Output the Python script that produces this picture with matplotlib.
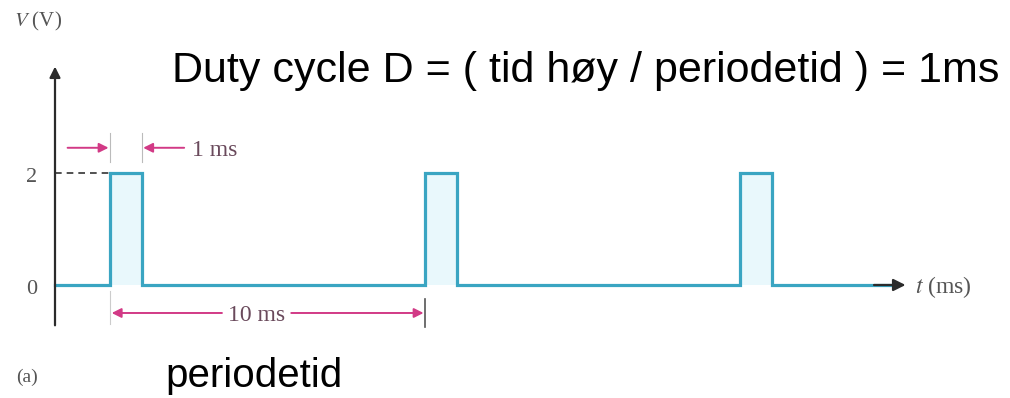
import numpy as np
import matplotlib.pyplot as plt

# pulse train (ms, V)
pulse_starts = [1.75, 11.75, 21.75]
pulse_width = 1.0
period = 10.0
v_high = 2.0
v_low = 0.0
t_end = 27.0
ytick_values = [0, 2]
ytick_labels = ['0', '2']

title_text = 'Duty cycle D = ( tid høy / periodetid ) = 1ms'
period_caption = 'periodetid'

WAVE = '#3aa5c2'
FILL = '#e9f8fc'
PINK = '#d23a86'
DIM_TEXT = '#6a4a5c'
GREY = '#555555'
SERIF = 'Liberation Serif'

plt.rcParams['mathtext.fontset'] = 'stix'


def build_wave():
    t = [0.0]
    v = [v_low]
    for s in pulse_starts:
        t += [s, s, s + pulse_width, s + pulse_width]
        v += [v_low, v_high, v_high, v_low]
    t.append(t_end - 0.5)
    v.append(v_low)
    return np.array(t), np.array(v)


def arrow(ax, tip, tail, color, lw=1.4, ms=14):
    ax.annotate('', xy=tip, xytext=tail,
                arrowprops=dict(arrowstyle='-|>', color=color, lw=lw,
                                mutation_scale=ms, shrinkA=0, shrinkB=0))


def main():
    fig = plt.figure(figsize=(10.10, 3.98), dpi=100)
    ax = fig.add_axes([0, 0, 1, 1])
    ax.set_xlim(-1.746, 30.317)
    ax.set_ylim(-2.018, 5.089)
    ax.axis('off')

    t, v = build_wave()
    for s in pulse_starts:
        ax.fill_between([s, s + pulse_width], v_low, v_high, color=FILL, lw=0)
    ax.plot(t, v, color=WAVE, lw=2.3, solid_joinstyle='miter', zorder=3)

    # axes with arrow heads (the waveform itself sits on the time axis)
    arrow(ax, (t_end, 0), (t_end - 1.0, 0), '#2b2b2b', lw=1.6, ms=18)
    arrow(ax, (0, 3.9), (0, -0.72), '#2b2b2b', lw=1.6, ms=16)
    ax.plot([0, pulse_starts[0]], [v_high, v_high], color='#333333', lw=1.2,
            ls=(0, (4, 3)))

    for val, lab in zip(ytick_values, ytick_labels):
        ax.text(-0.75, val - 0.08, lab, ha='center', va='center', fontsize=16,
                family=SERIF, color=GREY)
    ax.text(-1.3, 4.7, '$\\it{V}$ (V)', ha='left', va='center', fontsize=15,
            family=SERIF, color=GREY)
    ax.text(t_end + 0.3, -0.04, '$\\it{t}$ (ms)', ha='left', va='center',
            fontsize=17, family=SERIF, color=GREY)
    ax.text(-0.9, -1.65, '(a)', ha='center', va='center', fontsize=14,
            family=SERIF, color=GREY)

    # 1 ms width marker
    s0 = pulse_starts[0]
    y1 = 2.45
    for x in (s0, s0 + pulse_width):
        ax.plot([x, x], [2.2, 2.72], color='#bbbbbb', lw=0.8)
    arrow(ax, (s0 - 0.05, y1), (s0 - 1.35, y1), PINK)
    arrow(ax, (s0 + pulse_width + 0.05, y1), (s0 + 2.35, y1), PINK)
    ax.text(s0 + 2.6, y1 - 0.05, '1 ms', ha='left', va='center', fontsize=17,
            family=SERIF, color=DIM_TEXT)

    # 10 ms period marker
    y2 = -0.5
    s1 = s0 + period
    ax.plot([s0, s0], [-0.1, -0.7], color='#cccccc', lw=0.8)
    ax.plot([s1, s1], [-0.25, -0.75], color=GREY, lw=1.2)
    mid = s0 + period / 2 - 0.35
    arrow(ax, (s0 + 0.05, y2), (mid - 1.1, y2), PINK)
    arrow(ax, (s1 - 0.05, y2), (mid + 1.1, y2), PINK)
    ax.text(mid, y2 - 0.05, '10 ms', ha='center', va='center', fontsize=17,
            family=SERIF, color=DIM_TEXT)

    fig.text(172 / 1010, 1 - 82 / 398, title_text, ha='left', va='baseline',
             fontsize=31, family='Liberation Sans', color='black')
    fig.text(165 / 1010, 1 - 387 / 398, period_caption, ha='left',
             va='baseline', fontsize=29, family='Liberation Sans', color='black')

    fig.savefig('out.png', dpi=100, facecolor='white')
    plt.close(fig)


if __name__ == '__main__':
    main()
